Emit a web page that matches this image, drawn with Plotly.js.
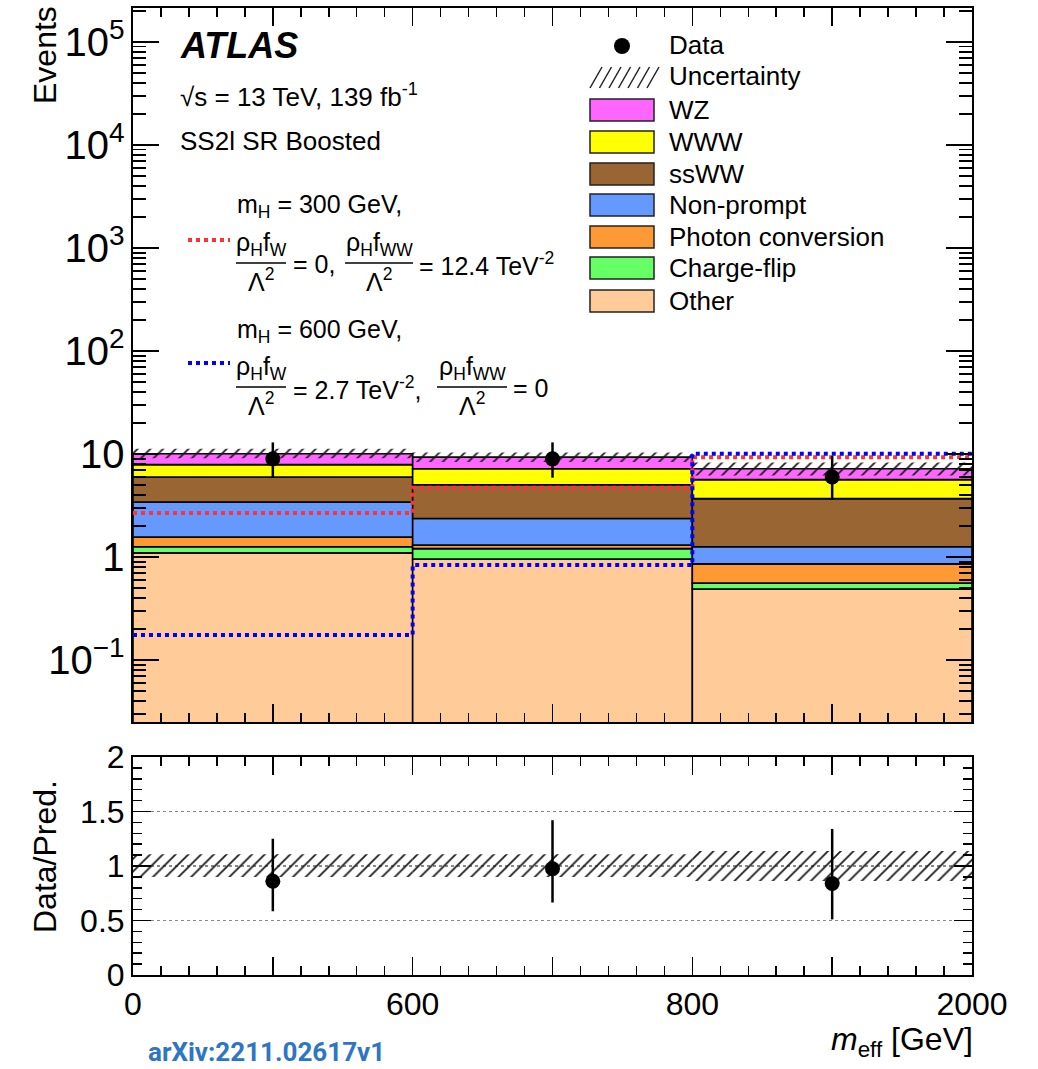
<!DOCTYPE html>
<html><head><meta charset="utf-8">
<script src="https://cdn.plot.ly/plotly-3.0.1.min.js"></script>
<style>body{margin:0;background:#fff}</style>
</head><body><div id="plot" style="width:1038px;height:1069px"></div>
<script>
// ---- data ----
const binEdges = [0, 1, 2, 3];
const binCenters = [0.5, 1.5, 2.5];
const binLabels = ['0', '600', '800', '2000'];

const other      = [1.10, 0.96, 0.49];
const chargeFlip = [0.16, 0.25, 0.07];
const photonConv = [0.31, 0.10, 0.30];
const nonPrompt  = [1.86, 1.06, 0.40];
const ssWW       = [2.57, 2.68, 2.44];
const WWW        = [1.90, 2.15, 1.95];
const WZ         = [2.20, 2.15, 1.55];

const uncLow  = [9.1, 8.4, 6.2];
const uncHigh = [11.3, 10.35, 8.3];

const dataY       = [9, 9, 6];
const dataErrUp   = [4.0, 4.0, 3.6];
const dataErrDown = [3.1, 3.1, 2.4];

const sigRed  = [2.68, 4.72, 9.35];
const sigBlue = [0.176, 0.837, 10.1];

const ratioY       = [0.86, 0.975, 0.84];
const ratioErrUp   = [0.39, 0.445, 0.50];
const ratioErrDown = [0.275, 0.31, 0.33];
const ratioUncLow  = [0.90, 0.90, 0.862];
const ratioUncHigh = [1.107, 1.107, 1.138];

const components = [
  {name: 'Other', vals: other, color: '#ffcc99'},
  {name: 'Charge-flip', vals: chargeFlip, color: '#66ff66'},
  {name: 'Photon conversion', vals: photonConv, color: '#ff9933'},
  {name: 'Non-prompt', vals: nonPrompt, color: '#6699ff'},
  {name: 'ssWW', vals: ssWW, color: '#996633'},
  {name: 'WWW', vals: WWW, color: '#ffff00'},
  {name: 'WZ', vals: WZ, color: '#ff66ff'}
];
const legendOrder = ['WZ', 'WWW', 'ssWW', 'Non-prompt', 'Photon conversion', 'Charge-flip', 'Other'];

// ---- traces ----
const traces = [];
let cum = [0, 0, 0];
components.forEach((c, i) => {
  const tr = {
    type: 'bar', x: binCenters, y: c.vals, width: [1, 1, 1],
    marker: {color: c.color, line: {color: 'black', width: 1.6}},
    xaxis: 'x', yaxis: 'y', hoverinfo: 'skip', showlegend: false
  };
  if (i > 0) tr.base = cum.slice();
  traces.push(tr);
  cum = cum.map((v, k) => v + c.vals[k]);
});

const hatch = {shape: '/', fgcolor: '#1a1a1a', fgopacity: 1, bgcolor: 'rgba(0,0,0,0)', size: 9, solidity: 0.2, fillmode: 'overlay'};
traces.push({
  type: 'bar', x: binCenters, base: uncLow, y: uncHigh.map((h, i) => h - uncLow[i]), width: [1, 1, 1],
  marker: {color: 'rgba(0,0,0,0)', line: {width: 0}, pattern: hatch},
  xaxis: 'x', yaxis: 'y', hoverinfo: 'skip', showlegend: false
});

function stepY(v) { return v.concat([v[v.length - 1]]); }
const sigDash = '4px,4px';
traces.push({type: 'scatter', mode: 'lines', x: binEdges, y: stepY(sigRed), line: {shape: 'hv', color: '#ff3333', width: 4, dash: sigDash}, xaxis: 'x', yaxis: 'y', showlegend: false, hoverinfo: 'skip'});
traces.push({type: 'scatter', mode: 'lines', x: binEdges, y: stepY(sigBlue), line: {shape: 'hv', color: '#0000ff', width: 4, dash: sigDash}, xaxis: 'x', yaxis: 'y', showlegend: false, hoverinfo: 'skip'});

traces.push({
  type: 'scatter', mode: 'markers', x: binCenters, y: dataY,
  marker: {color: 'black', size: 15},
  error_y: {type: 'data', symmetric: false, array: dataErrUp, arrayminus: dataErrDown, thickness: 2.5, width: 0, color: 'black'},
  xaxis: 'x', yaxis: 'y', showlegend: false, hoverinfo: 'skip'
});

// ratio panel
traces.push({
  type: 'bar', x: binCenters, base: ratioUncLow, y: ratioUncHigh.map((h, i) => h - ratioUncLow[i]), width: [1, 1, 1],
  marker: {color: 'rgba(0,0,0,0)', line: {width: 0}, pattern: hatch},
  xaxis: 'x2', yaxis: 'y2', hoverinfo: 'skip', showlegend: false
});
traces.push({
  type: 'scatter', mode: 'markers', x: binCenters, y: ratioY,
  marker: {color: 'black', size: 15},
  error_y: {type: 'data', symmetric: false, array: ratioErrUp, arrayminus: ratioErrDown, thickness: 2.5, width: 0, color: 'black'},
  xaxis: 'x2', yaxis: 'y2', showlegend: false, hoverinfo: 'skip'
});

// ---- layout helpers (pixel -> paper) ----
const L = 133, R = 972, T = 8, B = 975;
const px = x => (x - L) / (R - L);
const py = y => (B - y) / (B - T);
const FONT = '"Liberation Sans", Arial, Helvetica, sans-serif';

const annotations = [];
const shapes = [];
function txt(text, x, y, size, xanchor, extra) {
  annotations.push(Object.assign({
    text: text, x: px(x), y: py(y), xref: 'paper', yref: 'paper',
    xanchor: xanchor || 'left', yanchor: 'middle', showarrow: false,
    font: {family: FONT, size: size, color: 'black'}
  }, extra || {}));
}
function line(x0, y0, x1, y1, color, width, dash) {
  shapes.push({type: 'line', xref: 'paper', yref: 'paper', x0: px(x0), y0: py(y0), x1: px(x1), y1: py(y1),
    line: {color: color, width: width, dash: dash || 'solid'}});
}

txt('<b><i>ATLAS</i></b>', 178, 45, 36);
txt('√s = 13 TeV, 139 fb<sup>-1</sup>', 178, 95, 26);
txt('SS2l SR Boosted', 178, 141, 26);

// signal 1
txt('m<sub>H</sub> = 300 GeV,', 235, 206, 25);
line(188, 240, 230, 240, '#ff3333', 4, sigDash);
txt('ρ<sub>H</sub>f<sub>W</sub>', 261, 244, 25, 'center');
line(236, 263, 286, 263, 'black', 1.5);
txt('Λ<sup>2</sup>', 261, 280, 25, 'center');
txt('= 0,', 291, 264, 25);
txt('ρ<sub>H</sub>f<sub>WW</sub>', 379, 244, 25, 'center');
line(345, 263, 413, 263, 'black', 1.5);
txt('Λ<sup>2</sup>', 379, 280, 25, 'center');
txt('= 12.4 TeV<sup>-2</sup>', 417, 264, 25);

// signal 2
txt('m<sub>H</sub> = 600 GeV,', 235, 331, 25);
line(188, 363, 230, 363, '#0000ff', 4, sigDash);
txt('ρ<sub>H</sub>f<sub>W</sub>', 261, 368, 25, 'center');
line(236, 387, 286, 387, 'black', 1.5);
txt('Λ<sup>2</sup>', 261, 404, 25, 'center');
txt('= 2.7 TeV<sup>-2</sup>,', 291, 388, 25);
txt('ρ<sub>H</sub>f<sub>WW</sub>', 472, 368, 25, 'center');
line(437, 387, 507, 387, 'black', 1.5);
txt('Λ<sup>2</sup>', 472, 404, 25, 'center');
txt('= 0', 511, 388, 25);

// legend
const legTextX = 667;
shapes.push({type: 'circle', xref: 'paper', yref: 'paper', x0: px(614), x1: px(630), y0: py(54), y1: py(38), fillcolor: 'black', line: {width: 0}});
txt('Data', legTextX, 45, 26);
for (let k = 0; k < 7; k++) {
  const x0 = 590 + k * 9.5;
  line(x0, 88, x0 + 12, 67, '#222', 1.5);
}
txt('Uncertainty', legTextX, 76, 26);
const legY = [110, 142, 174, 205, 237, 268, 301];
legendOrder.forEach((nm, i) => {
  const c = components.find(cc => cc.name === nm);
  const yc = legY[i];
  shapes.push({type: 'rect', xref: 'paper', yref: 'paper', x0: px(590), x1: px(654), y0: py(yc + 11), y1: py(yc - 11),
    fillcolor: c.color, line: {color: '#222', width: 1.5}});
  txt(nm, legTextX, yc, 26);
});

// axis titles
annotations.push({text: 'Events', x: px(45), y: py(4), xref: 'paper', yref: 'paper', xanchor: 'center', yanchor: 'top',
  textangle: -90, showarrow: false, font: {family: FONT, size: 32, color: 'black'}});
annotations.push({text: 'Data/Pred.', x: px(45), y: py(857), xref: 'paper', yref: 'paper', xanchor: 'center', yanchor: 'middle',
  textangle: -90, showarrow: false, font: {family: FONT, size: 32, color: 'black'}});
annotations.push({text: '<i>m</i><sub>eff</sub> [GeV]', x: px(975), y: py(1041), xref: 'paper', yref: 'paper', xanchor: 'right', yanchor: 'middle',
  showarrow: false, font: {family: FONT, size: 32, color: 'black'}});
annotations.push({text: '<b>arXiv:2211.02617v1</b>', x: px(146), y: py(1069), xref: 'paper', yref: 'paper', xanchor: 'left', yanchor: 'bottom',
  showarrow: false, font: {family: '"Liberation Sans Narrow", Roboto, sans-serif', size: 26, color: '#2e75c4'}});

const axisCommon = {showline: true, linecolor: 'black', linewidth: 2, mirror: 'allticks', zeroline: false, showgrid: false,
  ticks: 'inside', tickcolor: 'black', tickwidth: 1.5, tickfont: {family: FONT, size: 32, color: 'black'}};

const layout = {
  width: 1038, height: 1069,
  margin: {l: L, r: 1038 - R, t: T, b: 1069 - B},
  paper_bgcolor: 'white', plot_bgcolor: 'white',
  barmode: 'overlay', showlegend: false,
  xaxis: Object.assign({}, axisCommon, {domain: [0, 1], range: [0, 3], anchor: 'y', tickmode: 'linear', tick0: 0, dtick: 0.5,
    ticklen: 18, showticklabels: false,
    minor: {tickmode: 'linear', tick0: 0, dtick: 0.1, ticks: 'inside', ticklen: 9, tickcolor: 'black', tickwidth: 1.5, showgrid: false}}),
  yaxis: Object.assign({}, axisCommon, {domain: [py(722), 1], type: 'log', range: [-1.60, 5.33], anchor: 'x',
    tickmode: 'linear', tick0: 0, dtick: 1, exponentformat: 'power', ticklen: 26,
    minor: {dtick: 'D1', ticks: 'inside', ticklen: 13, tickcolor: 'black', tickwidth: 1.5, showgrid: false}}),
  xaxis2: Object.assign({}, axisCommon, {domain: [0, 1], range: [0, 3], anchor: 'y2', tickmode: 'array',
    tickvals: [0, 0.5, 1, 1.5, 2, 2.5, 3], ticktext: [binLabels[0], '', binLabels[1], '', binLabels[2], '', binLabels[3]],
    ticklen: 18,
    minor: {tickmode: 'linear', tick0: 0, dtick: 0.1, ticks: 'inside', ticklen: 9, tickcolor: 'black', tickwidth: 1.5, showgrid: false}}),
  yaxis2: Object.assign({}, axisCommon, {domain: [0, py(757)], range: [0, 2], anchor: 'x2', tickmode: 'linear', tick0: 0, dtick: 0.5,
    ticklen: 18, showgrid: true, gridcolor: '#888', griddash: 'dot', gridwidth: 1.5,
    minor: {tickmode: 'linear', tick0: 0, dtick: 0.1, ticks: 'inside', ticklen: 9, tickcolor: 'black', tickwidth: 1.5, showgrid: false}}),
  annotations: annotations,
  shapes: shapes
};

Plotly.newPlot('plot', traces, layout, {displayModeBar: false, staticPlot: true});
</script>
</body></html>
